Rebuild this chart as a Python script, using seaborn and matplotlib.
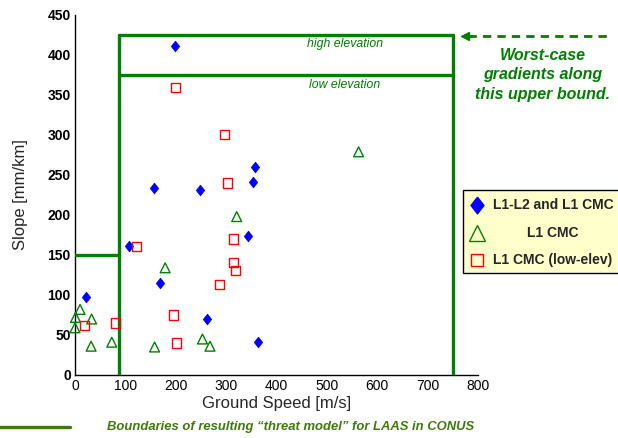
import matplotlib
matplotlib.use("Agg")
import matplotlib.pyplot as plt
from matplotlib.patches import Rectangle
from matplotlib.lines import Line2D
import seaborn as sns

# L1-L2 and L1 CMC
dual_speed = [199, 357, 353, 157, 249, 343, 107, 168, 21, 263, 363]
dual_slope = [411, 260, 241, 234, 231, 174, 161, 115, 97, 70, 41]

# L1 CMC
cmc_speed = [563, 321, 179, 10, 1, 33, 0, 32, 73, 158, 253, 268]
cmc_slope = [279, 198, 134, 82, 72, 70, 59, 36, 41, 35, 45, 36]

# L1 CMC (low-elev)
low_speed = [199, 296, 303, 315, 122, 315, 319, 286, 196, 19, 80, 201]
low_slope = [359, 301, 240, 170, 161, 141, 131, 113, 75, 62, 65, 40]

# threat model boundaries
speed_min = 88
speed_max = 750
slope_high = 425
slope_low = 375
slope_cut = 150

series_labels = ["L1-L2 and L1 CMC", "L1 CMC", "L1 CMC (low-elev)"]
x_ticks = [0, 100, 200, 300, 400, 500, 600, 700, 800]
y_ticks = [0, 50, 100, 150, 200, 250, 300, 350, 400, 450]

GREEN = "#008000"
OLIVE = "#3f7a0c"
W, H = 618, 438
DIAMOND = [(0, 1), (0.78, 0), (0, -1), (-0.78, 0), (0, 1)]

sns.set_style("white")
plt.rcParams["font.family"] = ["Liberation Sans", "DejaVu Sans"]


def px(x, y):
    """pixel position -> figure fraction"""
    return x / W, 1 - y / H


fig = plt.figure(figsize=(6.18, 4.38), dpi=100)
ax = fig.add_axes([75 / W, 1 - 375 / H, 403 / W, 360 / H])

sns.scatterplot(x=dual_speed, y=dual_slope, marker=DIAMOND, color="blue",
                edgecolor="blue", linewidth=0.5, s=60, ax=ax, zorder=4,
                clip_on=False)
sns.scatterplot(x=cmc_speed, y=cmc_slope, marker="^", facecolor="none",
                edgecolor=GREEN, linewidth=1.0, s=50, ax=ax, zorder=4,
                clip_on=False)
sns.scatterplot(x=low_speed, y=low_slope, marker="s", facecolor="none",
                edgecolor="red", linewidth=1.0, s=42, ax=ax, zorder=4,
                clip_on=False)

# threat model box
lw = 2.4
ax.plot([speed_min, speed_min], [0, slope_high], color=GREEN, lw=lw, zorder=3)
ax.plot([speed_max, speed_max], [0, slope_high], color=GREEN, lw=lw, zorder=3)
ax.plot([speed_min, speed_max], [slope_high, slope_high], color=GREEN, lw=lw, zorder=3)
ax.plot([speed_min, speed_max], [slope_low, slope_low], color=GREEN, lw=lw, zorder=3)
ax.plot([0, speed_min], [slope_cut, slope_cut], color=GREEN, lw=lw, zorder=3)

ax.text(536, 414, "high elevation", color=GREEN, style="italic", fontsize=8.8,
        ha="center", va="center")
ax.text(536, 362, "low elevation", color=GREEN, style="italic", fontsize=8.8,
        ha="center", va="center")

ax.set_xlim(0, 800)
ax.set_ylim(0, 450)
ax.set_xticks(x_ticks)
ax.set_yticks(y_ticks)
ax.set_xticklabels([str(t) for t in x_ticks], fontsize=10)
ax.set_yticklabels([str(t) for t in y_ticks], fontsize=10, fontweight="bold")
ax.tick_params(direction="in", length=4, width=1, pad=3, colors="black")
for s in ["top", "right"]:
    ax.spines[s].set_visible(False)
for s in ["left", "bottom"]:
    ax.spines[s].set_color("black")
    ax.spines[s].set_linewidth(1)
ax.set_xlabel("Ground Speed [m/s]", fontsize=12, labelpad=2)
ax.set_ylabel("Slope [mm/km]", fontsize=12, labelpad=14)

# dashed arrow pointing to upper bound
fig.add_artist(Line2D([px(468, 0)[0], px(612, 0)[0]], [px(0, 36)[1]] * 2,
                      color=GREEN, lw=2, linestyle=(0, (3, 2.2))))
fig.add_artist(Line2D([px(465, 0)[0]], [px(0, 36)[1]], marker="<",
                      color=GREEN, markersize=6, linestyle="none"))
fig.text(*px(543, 75), "Worst-case\ngradients along\nthis upper bound.",
         color=GREEN, fontsize=11.5, fontweight="bold", style="italic",
         ha="center", va="center", linespacing=1.35)

# legend box
fig.add_artist(Rectangle(px(463, 273), (W - 463 + 5) / W, 83 / H,
                         transform=fig.transFigure, facecolor="#ffffcc",
                         edgecolor="black", lw=1))
fig.add_artist(Line2D([px(477, 0)[0]], [px(0, 205)[1]], marker=DIAMOND,
                      color="blue", markersize=12, linestyle="none"))
fig.add_artist(Line2D([px(477, 0)[0]], [px(0, 233)[1]], marker="^",
                      markerfacecolor="none", markeredgecolor=GREEN,
                      markersize=11, linestyle="none"))
fig.add_artist(Line2D([px(477, 0)[0]], [px(0, 260)[1]], marker="s",
                      markerfacecolor="none", markeredgecolor="red",
                      markersize=9, linestyle="none"))
fig.text(*px(493, 205), series_labels[0], fontsize=10, fontweight="bold",
         ha="left", va="center")
fig.text(*px(553, 233), series_labels[1], fontsize=10, fontweight="bold",
         ha="center", va="center")
fig.text(*px(493, 260), series_labels[2], fontsize=10, fontweight="bold",
         ha="left", va="center")

# footer key for the boundary lines
fig.add_artist(Line2D([0, px(70, 0)[0]], [px(0, 427)[1]] * 2,
                      color=OLIVE, lw=2.4))
fig.text(*px(107, 427),
         "Boundaries of resulting \u201cthreat model\u201d for LAAS in CONUS",
         color=OLIVE, fontsize=9.4, fontweight="bold", style="italic",
         ha="left", va="center")

fig.savefig("out.png", dpi=100)
